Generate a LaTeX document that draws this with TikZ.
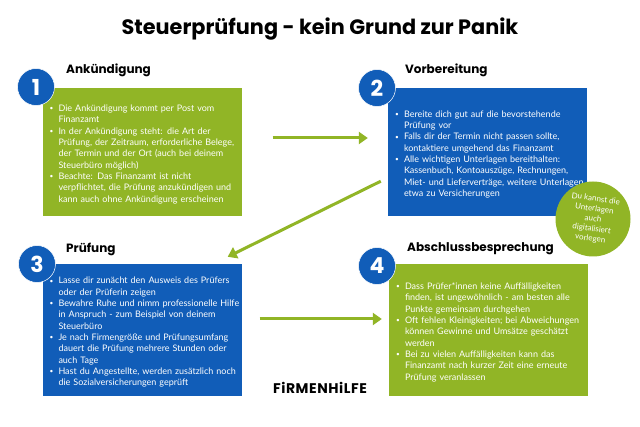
\documentclass[tikz,border=0pt]{standalone}
\usepackage{fontspec}
\setmainfont{Poppins}
\newfontfamily\bodyfont{Lato}
\newfontfamily\logofont[LetterSpace=4]{Poppins}
\usetikzlibrary{arrows.meta}
\definecolor{gruen}{HTML}{91B526}
\definecolor{blau}{HTML}{115DB8}
\newcommand{\punktzeichen}{\raisebox{0.7pt}{\fontsize{6.5}{6.5}\selectfont\textbullet}}
\newenvironment{punkte}{\begin{list}{\punktzeichen}{\setlength\leftmargin{15pt}\setlength\labelwidth{6pt}\setlength\labelsep{5pt}\setlength\itemsep{0pt}\setlength\parsep{0pt}\setlength\topsep{0pt}\setlength\partopsep{0pt}\setlength\rightmargin{-4pt}}}{\end{list}}
\begin{document}
\begin{tikzpicture}[x=1pt,y=-1pt]
\tikzset{
  kasten/.style={minimum width=199pt,text width=197pt,inner sep=0pt,text=white,font=\bodyfont\fontsize{9}{11.3}\selectfont},
  nummer/.style={circle,fill=blau,draw=white,line width=0.5pt,text=white,inner sep=0pt,minimum size=37pt,font=\bfseries\fontsize{22}{22}\selectfont},
  kopf/.style={anchor=west,inner sep=0pt,font=\bfseries\fontsize{12}{14}\selectfont},
  pfeil/.style={draw=gruen,line width=3pt,-{Triangle[length=9pt,width=12pt]}}
}
\useasboundingbox (0,0) rectangle (640,427);
\fill[white] (0,0) rectangle (640,427);
\node[font=\bfseries\fontsize{20.8}{24}\selectfont] (titel) at (320,29) {Steuerprüfung - kein Grund zur Panik};
% Kaesten
\node[kasten,fill=gruen,minimum height=128pt] (box1) at (142,152) {\begin{punkte}
\item Die Ankündigung kommt per Post vom\\Finanzamt
\item In der Ankündigung steht: die Art der\\Prüfung, der Zeitraum, erforderliche Belege,\\der Termin und der Ort (auch bei deinem\\Steuerbüro möglich)
\item Beachte: Das Finanzamt ist nicht\\verpflichtet, die Prüfung anzukündigen und\\kann auch ohne Ankündigung erscheinen
\end{punkte}};
\node[kasten,fill=blau,minimum height=128pt] (box2) at (487.5,152) {\begin{punkte}
\item Bereite dich gut auf die bevorstehende\\Prüfung vor
\item Falls dir der Termin nicht passen sollte,\\kontaktiere umgehend das Finanzamt
\item Alle wichtigen Unterlagen bereithalten:\\Kassenbuch, Kontoauszüge, Rechnungen,\\Miet- und Lieferverträge, weitere Unterlagen\\etwa zu Versicherungen
\end{punkte}};
\node[kasten,fill=blau,minimum height=132pt] (box3) at (142,330) {\begin{punkte}
\item Lasse dir zunächt den Ausweis des Prüfers\\oder der Prüferin zeigen
\item Bewahre Ruhe und nimm professionelle Hilfe\\in Anspruch - zum Beispiel von deinem\\Steuerbüro
\item Je nach Firmengröße und Prüfungsumfang\\dauert die Prüfung mehrere Stunden oder\\auch Tage
\item Hast du Angestellte, werden zusätzlich noch\\die Sozialversicherungen geprüft
\end{punkte}};
\node[kasten,fill=gruen,minimum height=132pt] (box4) at (488.5,330) {\begin{punkte}
\item Dass Prüfer*innen keine Auffälligkeiten\\finden, ist ungewöhnlich - am besten alle\\Punkte gemeinsam durchgehen
\item Oft fehlen Kleinigkeiten; bei Abweichungen\\können Gewinne und Umsätze geschätzt\\werden
\item Bei zu vielen Auffälligkeiten kann das\\Finanzamt nach kurzer Zeit eine erneute\\Prüfung veranlassen
\end{punkte}};
% Nummern
\node[nummer] (n1) at (36,87) {1};
\node[nummer] (n2) at (377,88) {2};
\node[nummer] (n3) at (37,264) {3};
\node[nummer] (n4) at (377,266) {4};
% Ueberschriften
\node[kopf] (k1) at (66,70) {Ankündigung};
\node[kopf] (k2) at (405,70) {Vorbereitung};
\node[kopf] (k3) at (66,249) {Prüfung};
\node[kopf] (k4) at (407,249) {Abschlussbesprechung};
% Pfeile
\draw[pfeil] ([shift={(31,-14)}]box1.east) -- ([shift={(-20,-14)}]box2.west);
\draw[pfeil] ([shift={(-7,-35)}]box2.south west) -- ([shift={(-14,-7)}]box3.north east);
\draw[pfeil] ([shift={(18,-11)}]box3.east) -- ([shift={(-7,-11)}]box4.west);
% Hinweis
\node[circle,fill=gruen,minimum size=75pt,inner sep=0pt] (hinweis) at (593,219) {};
\node[rotate=-8,align=center,text=white,font=\bodyfont\fontsize{8}{10}\selectfont] (hinweistext) at (hinweis) {Du kannst die\\Unterlagen\\auch\\digitalisiert\\vorlegen};
\node[font=\logofont\bfseries\fontsize{14}{14}\selectfont] (logo) at (320,388) {FiRMENHiLFE};
\end{tikzpicture}
\end{document}
